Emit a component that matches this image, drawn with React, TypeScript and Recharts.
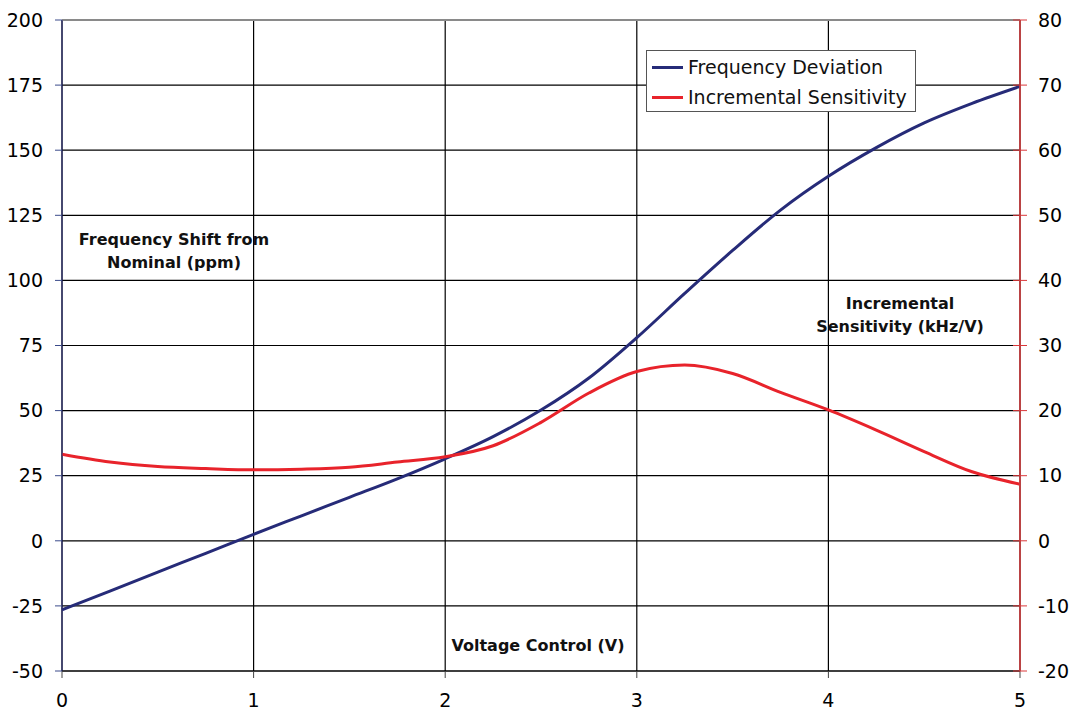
import { CartesianGrid, Line, LineChart, ReferenceLine, XAxis, YAxis } from 'recharts';

const voltage = [0, 0.25, 0.5, 0.75, 1, 1.25, 1.5, 1.75, 2, 2.25, 2.5, 2.75, 3, 3.25, 3.5, 3.75, 4, 4.25, 4.5, 4.75, 5];
const freqDeviation = [-26.5, -19.3, -12.0, -4.8, 2.5, 9.6, 16.7, 23.8, 31.5, 40.0, 50.2, 62.5, 78.0, 95.0, 111.5, 127.0, 140.0, 151.0, 160.5, 168.0, 174.5];
const sensitivity = [13.3, 12.1, 11.4, 11.1, 10.9, 11.0, 11.3, 12.1, 12.9, 14.6, 18.2, 22.7, 26.0, 27.0, 25.7, 22.8, 20.1, 17.0, 13.7, 10.6, 8.7];

const xTicks = [0, 1, 2, 3, 4, 5];
const leftTicks = [-50, -25, 0, 25, 50, 75, 100, 125, 150, 175, 200];
const rightTicks = [-20, -10, 0, 10, 20, 30, 40, 50, 60, 70, 80];

const series = [
  { key: 'dev', name: 'Frequency Deviation', color: '#262b78', axis: 'left' },
  { key: 'sens', name: 'Incremental Sensitivity', color: '#e8232b', axis: 'right' },
];

const data = voltage.map((v, i) => ({ v, dev: freqDeviation[i], sens: sensitivity[i] }));

const FONT = '"DejaVu Sans", Verdana, sans-serif';
const NAVY = '#262b78';
const tickStyle = { fill: '#000', fontSize: 19, fontFamily: FONT };

// right axis ticks straddle the axis line, so draw the tick mark ourselves
const RightTick = (props: any) => {
  const { x, y, payload } = props;
  return (
    <g>
      <line x1={x - 25} x2={x - 11} y1={y} y2={y} stroke="#d9383a" strokeWidth={1} />
      <text x={x} y={y} dy="0.355em" textAnchor="start" {...tickStyle}>
        {payload.value}
      </text>
    </g>
  );
};

const LegendBox = () => (
  <div
    style={{
      position: 'absolute',
      left: 646,
      top: 50,
      border: '1px solid #555',
      background: '#fff',
      width: 270,
      height: 62,
      boxSizing: 'border-box',
      padding: '1px 0 0 5px',
      fontFamily: FONT,
      fontSize: 19,
      color: '#111',
    }}
  >
    {series.map((it) => (
      <div key={it.key} style={{ display: 'flex', alignItems: 'center', height: 30 }}>
        <span style={{ display: 'inline-block', width: 31, height: 3, background: it.color, marginRight: 5 }} />
        <span>{it.name}</span>
      </div>
    ))}
  </div>
);

const noteStyle = {
  position: 'absolute' as const,
  fontFamily: FONT,
  fontWeight: 700,
  fontSize: 16,
  lineHeight: '23px',
  textAlign: 'center' as const,
  color: '#111',
  whiteSpace: 'nowrap' as const,
  transform: 'translateX(-50%)',
};

export default function App() {
  return (
    <div style={{ position: 'absolute', left: 0, top: 0, width: 1075, height: 715, background: '#fff' }}>
      <LineChart width={1075} height={715} data={data} margin={{ top: 20, right: 0, bottom: 0, left: 0 }}>
        <CartesianGrid yAxisId="left" stroke="#000" strokeWidth={1.2} />
        <XAxis
          dataKey="v"
          type="number"
          domain={[0, 5]}
          ticks={xTicks}
          height={44}
          axisLine={{ stroke: '#000' }}
          tickLine={{ stroke: '#444' }}
          tickSize={7}
          tickMargin={16}
          tick={tickStyle}
        />
        <YAxis
          yAxisId="left"
          domain={[-50, 200]}
          ticks={leftTicks}
          width={62}
          axisLine={{ stroke: NAVY }}
          tickLine={{ stroke: '#3a4a8a' }}
          tickSize={7}
          tickMargin={12}
          tick={tickStyle}
        />
        <YAxis
          yAxisId="right"
          orientation="right"
          domain={[-20, 80]}
          ticks={rightTicks}
          width={55}
          axisLine={{ stroke: '#d03a3c', strokeWidth: 1.6 }}
          tickLine={false}
          tickSize={7}
          tickMargin={11}
          tick={<RightTick />}
        />
        <ReferenceLine yAxisId="left" y={200} stroke="#8a8a8a" strokeWidth={2} />
        {series.map((s) => (
          <Line
            key={s.key}
            yAxisId={s.axis}
            type="monotone"
            dataKey={s.key}
            name={s.name}
            stroke={s.color}
            strokeWidth={3}
            dot={false}
            isAnimationActive={false}
          />
        ))}
      </LineChart>
      <LegendBox />
      <div style={{ ...noteStyle, left: 174, top: 228 }}>
        Frequency Shift from
        <br />
        Nominal (ppm)
      </div>
      <div style={{ ...noteStyle, left: 900, top: 292 }}>
        Incremental
        <br />
        Sensitivity (kHz/V)
      </div>
      <div style={{ ...noteStyle, left: 538, top: 634 }}>Voltage Control (V)</div>
    </div>
  );
}
